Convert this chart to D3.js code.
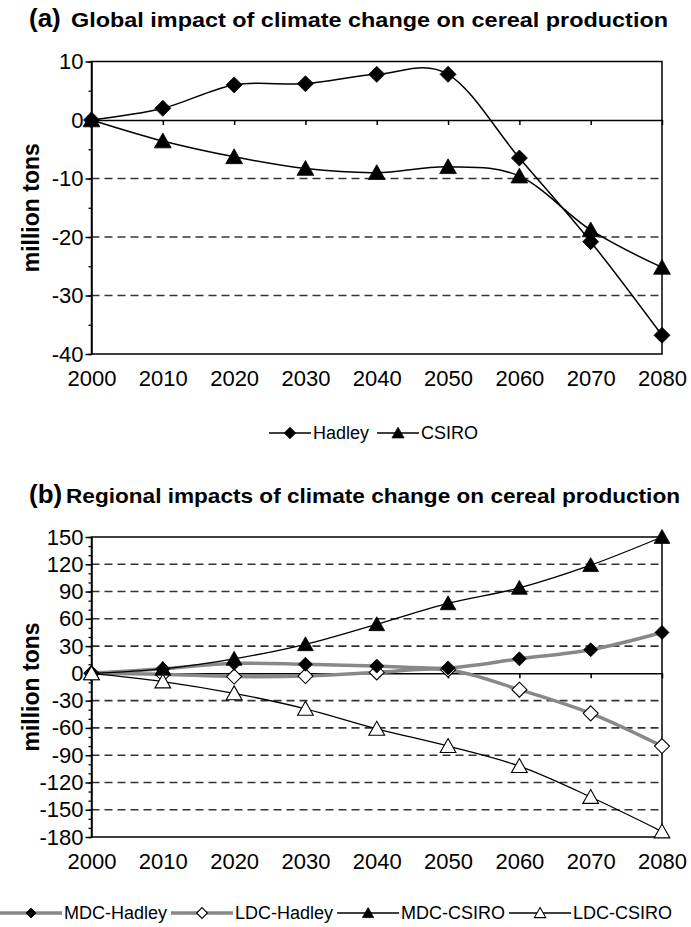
<!DOCTYPE html>
<html>
<head>
<meta charset="utf-8">
<script src="https://cdn.jsdelivr.net/npm/d3@7"></script>
<style>
  body { margin: 0; background: #fff; }
  svg { display: block; font-family: "Liberation Sans", Arial, sans-serif; }
</style>
</head>
<body>
<div id="chart"></div>
<script>
// ---- data ----
const years = [2000, 2010, 2020, 2030, 2040, 2050, 2060, 2070, 2080];

// (a) global, million tons
const globalHadley = [0, 2, 6, 6.2, 7.8, 7.8, -6.5, -20.8, -36.8];
const globalCsiro = [0, -3.6, -6.3, -8.3, -9, -8, -9.6, -18.8, -25.2];

// (b) regional, million tons
const mdcHadley = [0, 5, 11, 10, 8, 6, 16, 26, 45];
const ldcHadley = [0, -1, -3.5, -3, 1, 4, -18, -44, -80];
const mdcCsiro = [0, 5, 16, 32, 54, 77, 94, 119, 150];
const ldcCsiro = [0, -9, -22, -39, -61, -80, -102, -136, -174];

const ticksA = [10, 0, -10, -20, -30, -40];
const ticksB = [150, 120, 90, 60, 30, 0, -30, -60, -90, -120, -150, -180];

const titleA = 'Global impact of climate change on cereal production';
const titleB = 'Regional impacts of climate change on cereal production';

// ---- drawing ----
const W = 691, H = 927;
const svg = d3.select('#chart').append('svg')
  .attr('width', W)
  .attr('height', H);

svg.append('rect').attr('width', W).attr('height', H).attr('fill', '#fff');

const x = d3.scaleLinear().domain([2000, 2080]).range([91.5, 662]);
const curve = d3.curveCardinal.tension(0);
const plain = d => String(d); // keep the ascii hyphen like the original

const shapes = {
  diamond: r => `M0,${-r}L${r},0L0,${r}L${-r},0Z`,
  triangle: r => `M0,${-r}L${r * 1.05},${r * 0.85}L${-r * 1.05},${r * 0.85}Z`
};

function marker(sel, type, r, fill) {
  sel.append('path')
    .attr('d', shapes[type](r))
    .attr('fill', fill)
    .attr('stroke', '#000')
    .attr('stroke-width', fill === '#fff' ? 1.1 : 0.8);
}

function drawPanel(p) {
  const y = d3.scaleLinear().domain(p.domain).range([p.bottom, p.top]);
  const g = svg.append('g');

  // title
  g.append('text')
    .attr('x', 29).attr('y', p.titleY)
    .attr('font-size', 26).attr('font-weight', 'bold')
    .text(p.letter);
  g.append('text')
    .attr('x', p.titleX).attr('y', p.titleY)
    .attr('font-size', 21).attr('font-weight', 'bold')
    .attr('textLength', p.titleW).attr('lengthAdjust', 'spacingAndGlyphs')
    .text(p.title);

  // dashed grid
  const inner = p.ticks.filter(t => t !== 0 && t !== p.domain[0] && t !== p.domain[1]);
  g.selectAll('.grid')
    .data(inner)
    .enter()
    .append('line')
    .attr('x1', x(2000)).attr('x2', x(2080))
    .attr('y1', d => y(d)).attr('y2', d => y(d))
    .attr('stroke', '#333')
    .attr('stroke-width', 1.6)
    .attr('stroke-dasharray', '8,5');

  // frame
  g.append('rect')
    .attr('x', x(2000)).attr('y', p.top)
    .attr('width', x(2080) - x(2000)).attr('height', p.bottom - p.top)
    .attr('fill', 'none').attr('stroke', '#000').attr('stroke-width', 1.5);

  // zero line with year ticks
  const zero = g.append('g')
    .attr('transform', 'translate(0,' + y(0) + ')')
    .call(d3.axisBottom(x).tickValues(years.slice(1)).tickSize(5).tickSizeOuter(0).tickFormat(''));
  zero.selectAll('path, line').attr('stroke', '#000').attr('stroke-width', 1.5);

  // minor y ticks
  const minor = g.append('g')
    .attr('transform', 'translate(' + x(2000) + ',0)')
    .call(d3.axisLeft(y).tickValues(d3.range(p.domain[0], p.domain[1] + 0.01, p.minorStep)).tickSize(3).tickFormat(''));
  minor.select('.domain').remove();
  minor.selectAll('line').attr('stroke', '#000').attr('stroke-width', 1.3);

  // major y axis
  const yAxis = g.append('g')
    .attr('transform', 'translate(' + x(2000) + ',0)')
    .call(d3.axisLeft(y).tickValues(p.ticks).tickSize(6).tickSizeOuter(0).tickPadding(2).tickFormat(plain));
  yAxis.selectAll('path, line').attr('stroke', '#000').attr('stroke-width', 1.5);
  yAxis.selectAll('text')
    .attr('font-size', 22)
    .attr('fill', '#000')
    .attr('font-family', '"Liberation Sans", Arial, sans-serif');

  // x labels under the plot
  const xAxis = g.append('g')
    .attr('transform', 'translate(0,' + p.bottom + ')')
    .call(d3.axisBottom(x).tickValues(years).tickSize(0).tickPadding(16).tickFormat(plain));
  xAxis.select('.domain').remove();
  xAxis.selectAll('text')
    .attr('font-size', 22)
    .attr('fill', '#000')
    .attr('font-family', '"Liberation Sans", Arial, sans-serif');

  // y title
  g.append('text')
    .attr('transform', 'translate(' + 31 + ',' + ((p.top + p.bottom) / 2) + ') rotate(-90)')
    .attr('text-anchor', 'middle')
    .attr('dominant-baseline', 'central')
    .attr('font-size', 23).attr('font-weight', 'bold')
    .text('million tons');

  // series lines
  const line = d3.line()
    .x((d, i) => x(years[i]))
    .y(d => y(d))
    .curve(curve);

  p.series.forEach(s => {
    g.append('path')
      .attr('d', line(s.values))
      .attr('fill', 'none')
      .attr('stroke', s.color)
      .attr('stroke-width', s.width);
  });

  // markers (drawn in markerOrder so filled diamonds sit on top)
  (p.markerOrder || p.series.map((s, i) => i)).forEach(k => {
    const s = p.series[k];
    g.selectAll(null)
      .data(s.values)
      .enter()
      .append('g')
      .attr('transform', (d, i) => 'translate(' + x(years[i]) + ',' + y(d) + ')')
      .each(function () { marker(d3.select(this), s.shape, s.r, s.fill); });
  });

  // legend
  let lx = p.legendX;
  p.series.forEach(s => {
    const seg = p.legendSeg;
    g.append('line')
      .attr('x1', lx).attr('x2', lx + seg)
      .attr('y1', p.legendY).attr('y2', p.legendY)
      .attr('stroke', s.color).attr('stroke-width', s.width);
    const m = g.append('g').attr('transform', 'translate(' + (lx + seg / 2) + ',' + p.legendY + ')');
    marker(m, s.shape, s.r * 0.72, s.fill);
    const t = g.append('text')
      .attr('x', lx + seg + 2).attr('y', p.legendY)
      .attr('dominant-baseline', 'central')
      .attr('font-size', 18)
      .text(s.name);
    lx += seg + 2 + t.node().getComputedTextLength() + p.legendGap;
  });
}

drawPanel({
  letter: '(a)', title: titleA, titleX: 71, titleW: 597, titleY: 27,
  top: 61.5, bottom: 354, domain: [-40, 10], ticks: ticksA, minorStep: 5,
  legendX: 269, legendY: 433, legendSeg: 42, legendGap: 8,
  series: [
    { name: 'Hadley', values: globalHadley, color: '#000', width: 1.5, shape: 'diamond', r: 8, fill: '#000' },
    { name: 'CSIRO', values: globalCsiro, color: '#000', width: 1.5, shape: 'triangle', r: 8, fill: '#000' }
  ]
});

drawPanel({
  letter: '(b)', title: titleB, titleX: 66, titleW: 614, titleY: 503,
  top: 537, bottom: 837, domain: [-180, 150], ticks: ticksB, minorStep: 10,
  legendX: 0, legendY: 913, legendSeg: 62, legendGap: 4,
  markerOrder: [1, 0, 2, 3],
  series: [
    { name: 'MDC-Hadley', values: mdcHadley, color: '#888', width: 3.5, shape: 'diamond', r: 7, fill: '#000' },
    { name: 'LDC-Hadley', values: ldcHadley, color: '#888', width: 3.5, shape: 'diamond', r: 7.5, fill: '#fff' },
    { name: 'MDC-CSIRO', values: mdcCsiro, color: '#000', width: 1.3, shape: 'triangle', r: 7.5, fill: '#000' },
    { name: 'LDC-CSIRO', values: ldcCsiro, color: '#000', width: 1.3, shape: 'triangle', r: 7.5, fill: '#fff' }
  ]
});
</script>
</body>
</html>
